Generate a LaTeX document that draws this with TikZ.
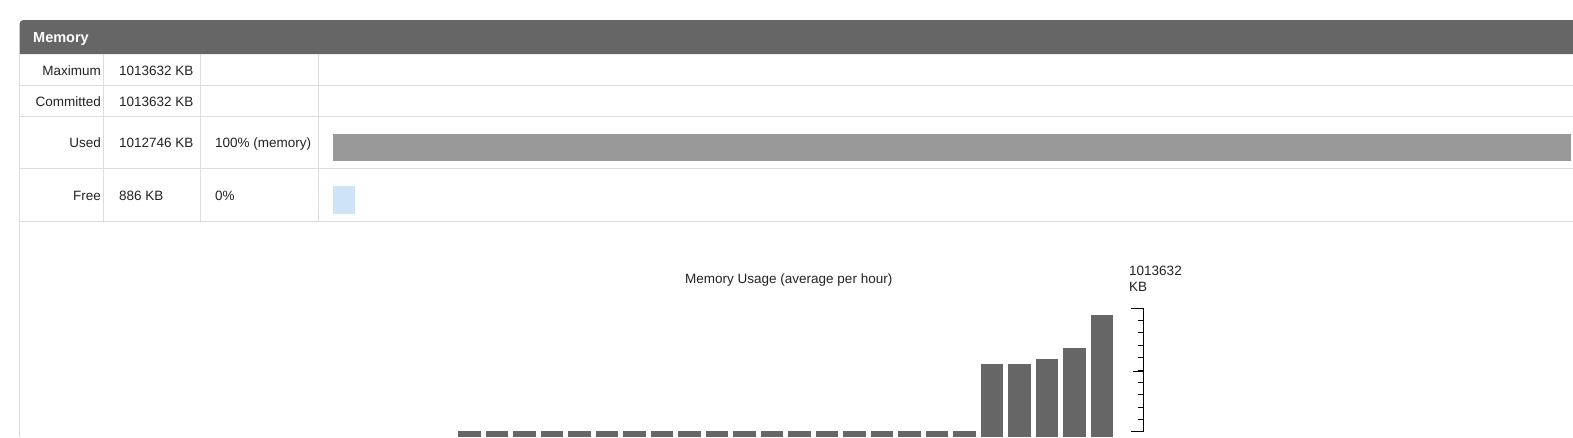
\documentclass[tikz,border=0pt]{standalone}
\usepackage{fontspec}
\setmainfont{Liberation Sans}
\definecolor{headgray}{HTML}{666666}
\definecolor{linegray}{HTML}{DDDDDD}
\definecolor{usedgray}{HTML}{999999}
\definecolor{freeblue}{HTML}{CFE3F7}
\definecolor{textdark}{HTML}{222222}
\tikzset{
  cell/.style={inner sep=0pt, text=textdark, font=\fontsize{13.5}{16}\selectfont},
  grid/.style={draw=linegray, line width=1pt},
}
\begin{document}
\begin{tikzpicture}[x=1pt, y=-1pt]
    \useasboundingbox (0,0) rectangle (1573,437);

    % Header
    \fill[headgray] (19.5,54) [rounded corners=4pt] -- (19.5,20) [sharp corners] -- (1573,20) -- (1573,54) -- cycle;
    \node[cell, anchor=base west, text=white, font=\fontsize{14.5}{16}\selectfont\bfseries] (head) at (33,42.7) {Memory};

    % Table lines
    \foreach \y in {85.3,116.7,168.3,221}
        \draw[grid] (19.5,\y) -- (1573,\y);
    \foreach \x in {103.7,200.3,318.7}
        \draw[grid] (\x,54) -- (\x,221);
    \draw[grid] (19.5,54) -- (19.5,437);

    % Rows
    \node[cell, anchor=base east] (maxlabel) at (101,75.5) {Maximum};
    \node[cell, anchor=base west] (maxvalue) at (119,75.5) {1013632 KB};
    \node[cell, anchor=base east] (comlabel) at (101,106) {Committed};
    \node[cell, anchor=base west] (comvalue) at (119,106) {1013632 KB};
    \node[cell, anchor=base east] (usedlabel) at (101,147.3) {Used};
    \node[cell, anchor=base west] (usedvalue) at (119,147.3) {1012746 KB};
    \node[cell, anchor=base west] (usedpct) at (215,147.3) {100\% (memory)};
    \node[cell, anchor=base east] (freelabel) at (101,200) {Free};
    \node[cell, anchor=base west] (freevalue) at (119,200) {886 KB};
    \node[cell, anchor=base west] (freepct) at (215,200) {0\%};

    % Usage bars
    \fill[usedgray] (333,134) rectangle (1571,160.7);
    \fill[freeblue] (333,186) rectangle (355,213.7);

    % Chart
    \node[cell, anchor=base west] (title) at (685,283) {Memory Usage (average per hour)};
    \node[cell, anchor=base west] (axismax) at (1129,275) {1013632};
    \node[cell, anchor=base west] (axisunit) at (1129,291.5) {KB};
    \foreach \i in {0,...,18}
        \fill[headgray] (458+27.5*\i,431) rectangle +(22.5,6);
    \foreach \i/\t in {19/364,20/364,21/359,22/348,23/315}
        \fill[headgray] (458+27.5*\i,\t) rectangle (480.5+27.5*\i,437);

    % Axis
    \draw[line width=1pt] (1130.7,308.3) -- (1143.7,308.3) -- (1143.7,431.7) -- (1130.7,431.7);
    \foreach \k in {1,...,9}
        \draw[line width=1pt] (1137.7,308.3+12.34*\k) -- (1143.7,308.3+12.34*\k);
    \draw[line width=1pt] (1132.7,371) -- (1143.7,371);
\end{tikzpicture}
\end{document}
